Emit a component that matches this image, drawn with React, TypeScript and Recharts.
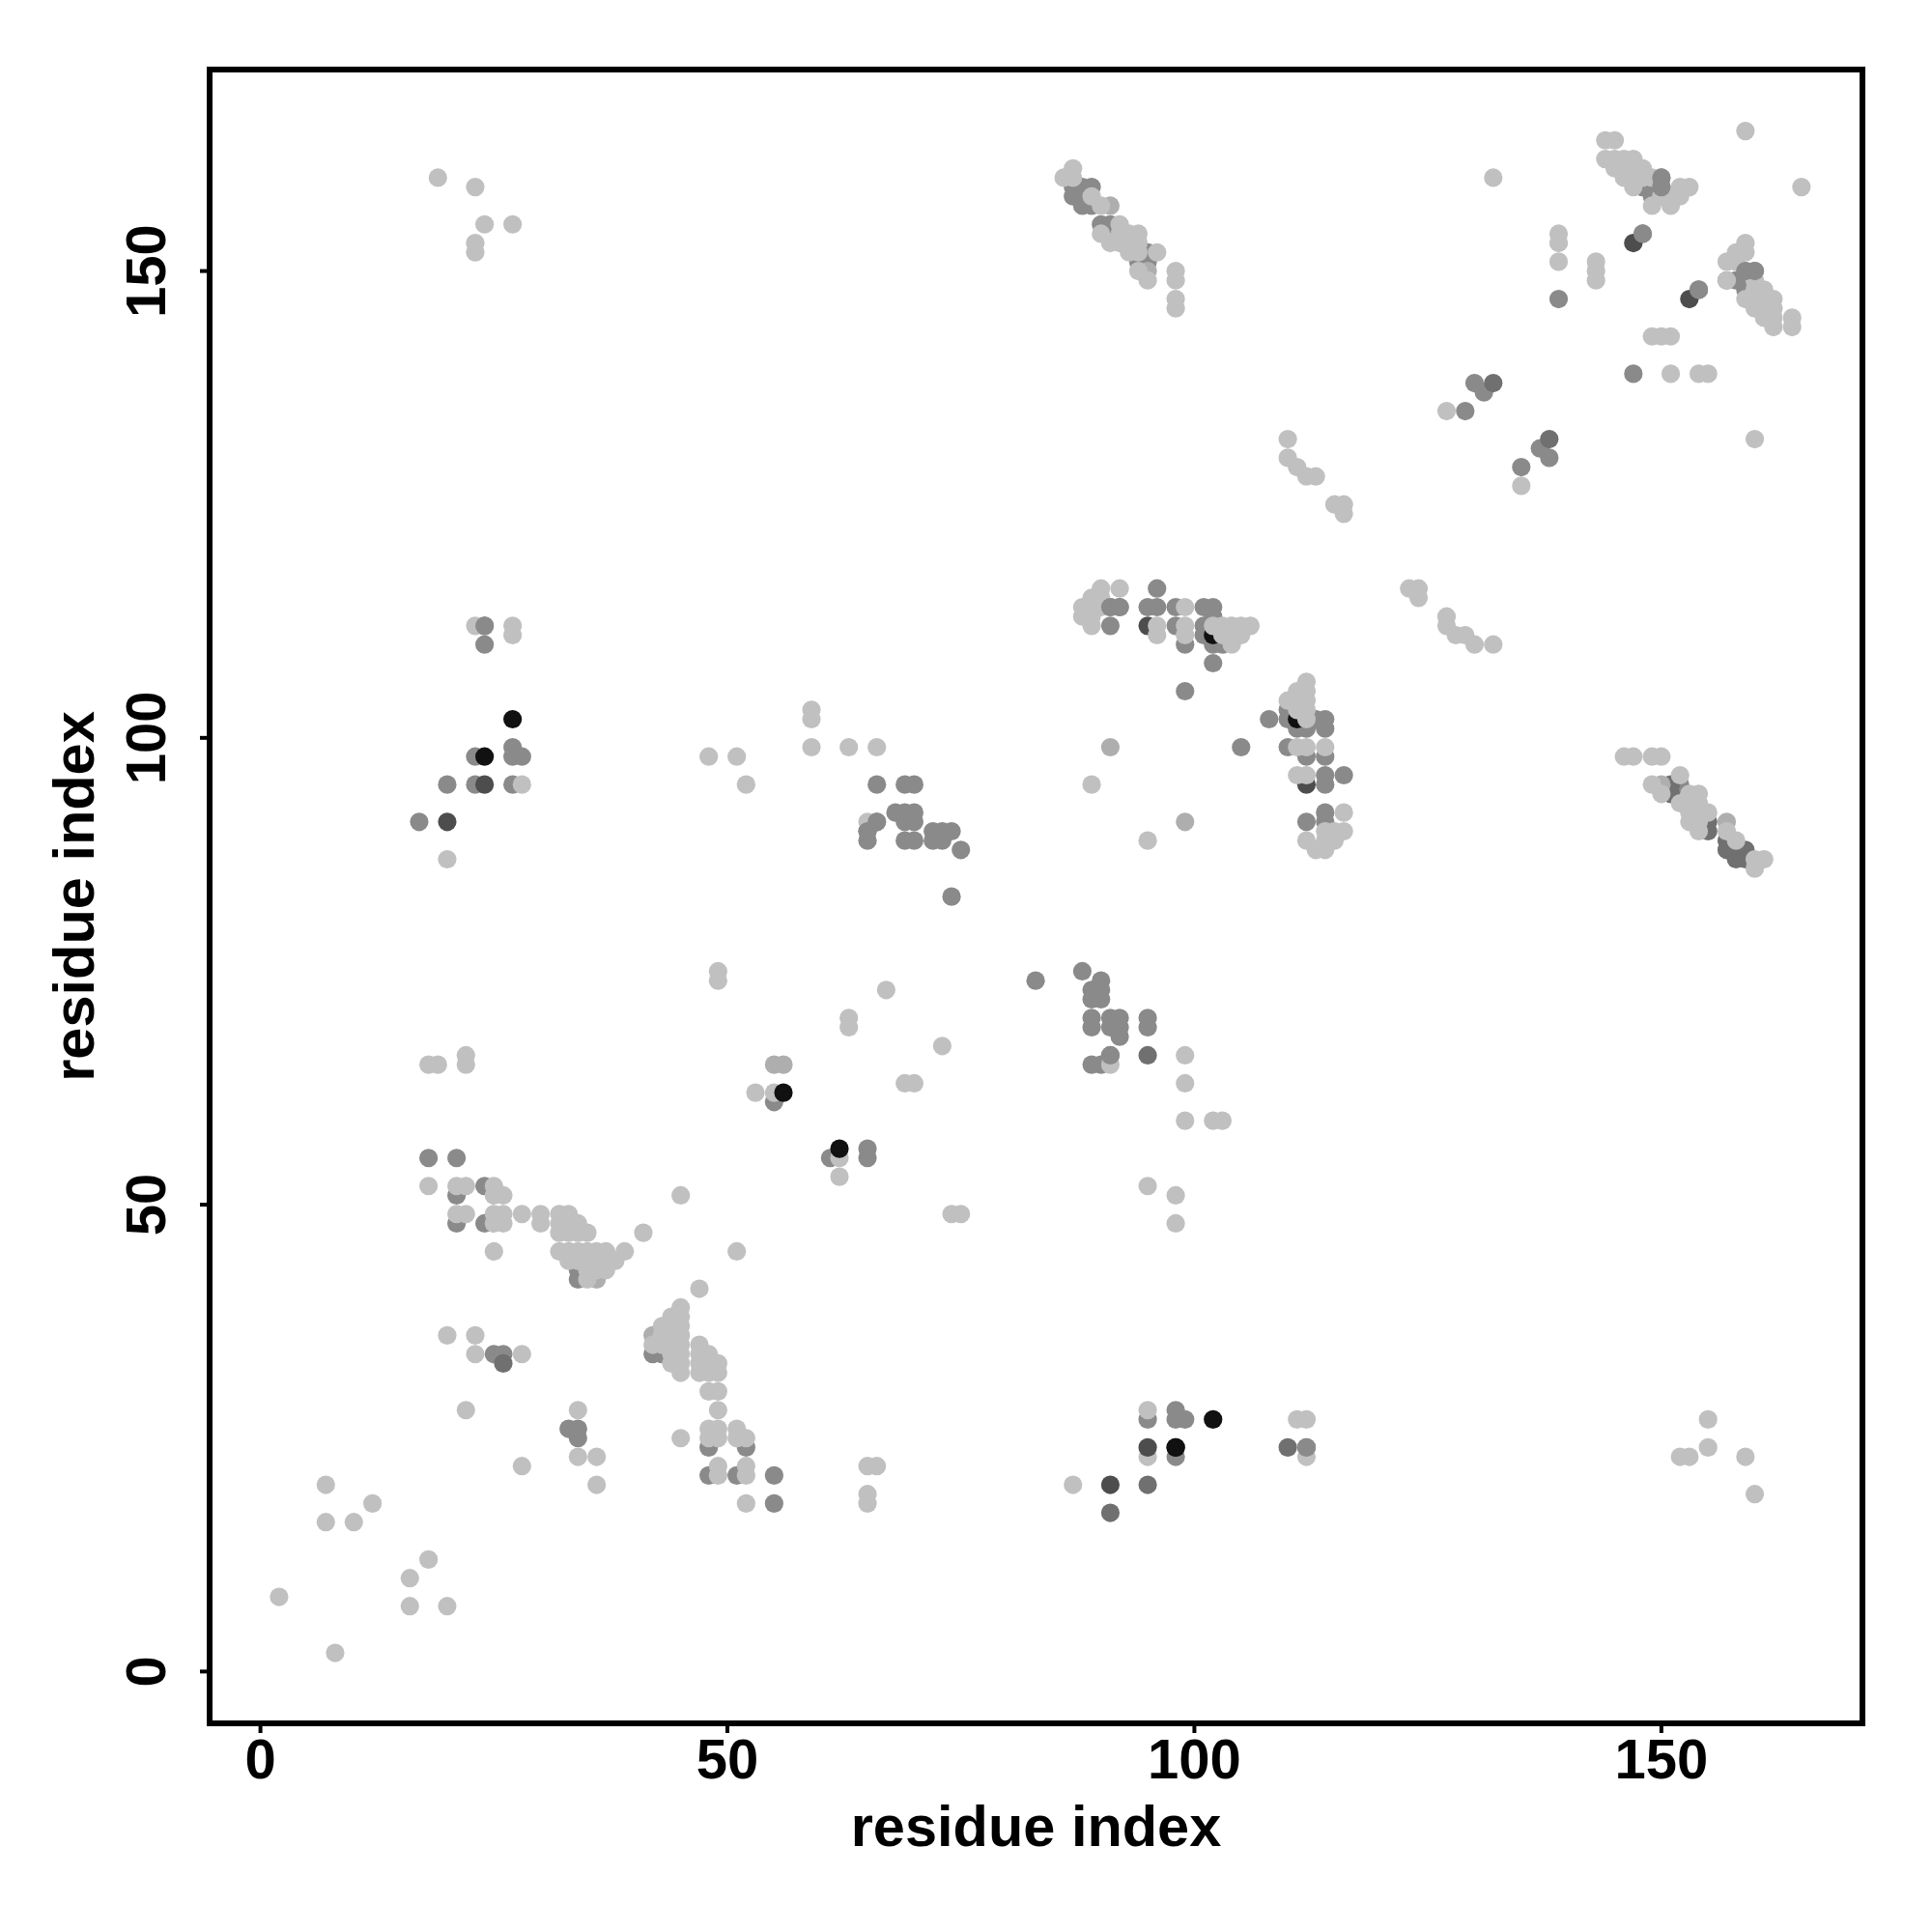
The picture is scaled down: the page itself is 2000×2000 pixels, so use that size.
import React from 'react';
import { ScatterChart, Scatter, XAxis, YAxis, ReferenceArea } from 'recharts';

type Pt = [number, number];

const X_TICKS = [0, 50, 100, 150];
const Y_TICKS = [0, 50, 100, 150];

const BLACK_PTS: Pt[] = [
  [27, 102], [24, 98], [102, 111], [111, 102], [98, 24], [102, 27],
];

const DARK_PTS: Pt[] = [
  [147, 153], [153, 147], [95, 112], [112, 95], [91, 20], [20, 91], [24, 95],
];

const MIDDARK_PTS: Pt[] = [
  [132, 138], [138, 132], [91, 17], [95, 66], [157, 89], [157, 88], [158, 88], [158, 87], [159, 88],
  [159, 87], [151, 95], [151, 94], [155, 90], [155, 91], [95, 20], [26, 33], [110, 24],
];

const MID_PTS: Pt[] = [
  [18, 55], [21, 55], [21, 51], [24, 52], [21, 48], [24, 48], [34, 43], [34, 42], [42, 34], [43, 34],
  [25, 34], [26, 34], [33, 26], [34, 26], [34, 25], [48, 24], [52, 24], [48, 21], [51, 21],
  [55, 21], [55, 18], [95, 27], [98, 28], [98, 27], [99, 27], [98, 23],
  [112, 24], [83, 74], [88, 75], [90, 74], [89, 73], [90, 73], [89, 72], [90, 72], [89, 70],
  [89, 69], [91, 70], [92, 70], [91, 69], [92, 69], [92, 68], [95, 70], [95, 69], [91, 66],
  [89, 65], [90, 65], [55, 61], [61, 55], [65, 56], [65, 55], [24, 112], [24, 110], [23, 98], [27, 99],
  [27, 98], [28, 98], [20, 95], [23, 95], [27, 95], [17, 91], [66, 95], [69, 95], [70, 95], [65, 90],
  [65, 89], [66, 91], [68, 92], [69, 92], [70, 92], [69, 91], [70, 91], [69, 89], [70, 89], [72, 90],
  [73, 90], [74, 90], [72, 89], [73, 89], [75, 88], [74, 83], [91, 114], [92, 114], [95, 114], [96, 114],
  [98, 114], [101, 114], [102, 114], [102, 113], [96, 116], [91, 112], [98, 112], [99, 110], [101, 112],
  [101, 111], [102, 110], [103, 110], [102, 108], [99, 105], [105, 99], [108, 102], [110, 103],
  [110, 102], [111, 101], [112, 101], [114, 101], [113, 102], [114, 102], [110, 99], [112, 98], [114, 98],
  [114, 96], [114, 95], [116, 96], [114, 92], [114, 91], [112, 91], [87, 159], [87, 158], [88, 159],
  [89, 159], [88, 158], [88, 157], [89, 157], [90, 155], [91, 155], [95, 152], [94, 151], [95, 151],
  [148, 159], [149, 159], [150, 160], [150, 159], [149, 158], [148, 154], [139, 147], [147, 139], [154, 148],
  [159, 150], [160, 150], [157, 149], [158, 149], [159, 148], [129, 135], [130, 138], [131, 137],
  [135, 129], [137, 131], [138, 130], [152, 95],
];

const PALE_PTS: Pt[] = [
  [91, 99], [99, 91], [55, 65], [56, 65], [91, 157], [150, 95], [157, 91], [95, 150], [93, 153],
  [36, 42], [42, 36], [153, 93],
];

const LIGHT_PTS: Pt[] = [
  [2, 8], [8, 2], [7, 20], [7, 16], [10, 16], [12, 18], [16, 10], [16, 7], [18, 12], [20, 7], [20, 36],
  [22, 28], [23, 36], [23, 34], [28, 34], [28, 22], [34, 28], [34, 23], [36, 23], [36, 20], [18, 52],
  [21, 52], [22, 52], [25, 52], [25, 51], [26, 51], [21, 49], [22, 49], [25, 49], [26, 49], [25, 48],
  [26, 48], [28, 49], [30, 49], [30, 48], [32, 49], [33, 49], [32, 48], [33, 48], [34, 48], [32, 47],
  [33, 47], [34, 47], [35, 47], [25, 45], [32, 45], [33, 45], [34, 45], [35, 45], [36, 45], [37, 45],
  [39, 45], [33, 44], [34, 44], [35, 44], [36, 44], [37, 44], [38, 44], [35, 43], [36, 43], [37, 43],
  [35, 42], [41, 47], [45, 51], [47, 41], [45, 39], [44, 38], [45, 38], [43, 37], [44, 37],
  [45, 37], [43, 36], [44, 36], [45, 36], [42, 35], [43, 35], [44, 35], [45, 35], [44, 34],
  [45, 34], [44, 33], [45, 33], [45, 32], [47, 35], [47, 34], [47, 33], [47, 32], [48, 34], [48, 33],
  [48, 32], [49, 33], [49, 32], [48, 30], [49, 30], [49, 28], [48, 26], [49, 26], [48, 25], [49, 25],
  [51, 26], [51, 25], [52, 25], [45, 25], [49, 22], [49, 21], [52, 22], [52, 21], [52, 18], [65, 22],
  [66, 22], [65, 19], [65, 18], [87, 20], [95, 28], [95, 23], [111, 27], [112, 27], [112, 23], [153, 23],
  [152, 23], [155, 27], [155, 24], [159, 23], [160, 19], [99, 66], [91, 65], [99, 63], [99, 59], [102, 59],
  [103, 59], [95, 52], [98, 51], [98, 48], [74, 49], [75, 49], [73, 67], [69, 63], [70, 63], [67, 73],
  [63, 70], [63, 69], [49, 75], [49, 74], [53, 62], [55, 62], [62, 55], [62, 53],
  [18, 65], [19, 65], [22, 66], [22, 65], [51, 45], [19, 160], [23, 159], [24, 155], [27, 155], [23, 153],
  [23, 152], [132, 160], [165, 159], [159, 165], [23, 112], [27, 112], [27, 111], [28, 95], [20, 87],
  [48, 98], [51, 98], [52, 95], [59, 103], [59, 102], [59, 99], [63, 99], [66, 99], [65, 91],
  [90, 116], [92, 116], [89, 115], [90, 115], [88, 114], [89, 114], [90, 114], [99, 114], [88, 113],
  [89, 113], [89, 112], [96, 112], [96, 111], [99, 112], [99, 111], [102, 112], [103, 112], [104, 112],
  [105, 112], [106, 112], [103, 111], [104, 111], [105, 111], [104, 110], [89, 95],
  [95, 89], [112, 106], [111, 105], [112, 105], [110, 104], [111, 104], [112, 104], [111, 103], [112, 103],
  [112, 102], [111, 99], [112, 99], [114, 99], [111, 96], [112, 96], [116, 92], [116, 90], [115, 90],
  [114, 90], [112, 89], [114, 89], [115, 89], [113, 88], [114, 88], [87, 161], [86, 160], [87, 160],
  [89, 158], [90, 157], [90, 154], [91, 153], [92, 155], [92, 154], [92, 153], [93, 154],
  [94, 154], [94, 153], [93, 152], [94, 152], [96, 152], [94, 150], [95, 149],
  [98, 150], [98, 149], [98, 147], [98, 146], [144, 164], [145, 164], [144, 162], [145, 162], [146, 162],
  [147, 162], [145, 161], [146, 161], [147, 161], [148, 161], [146, 160], [147, 160], [148, 160],
  [149, 160], [147, 159], [149, 157], [150, 158], [151, 158], [152, 159], [153, 159],
  [152, 158], [151, 157], [139, 154], [139, 153], [139, 151], [143, 151], [143, 150], [143, 149],
  [159, 153], [158, 152], [159, 152], [157, 151], [158, 151], [157, 149], [160, 149], [161, 148],
  [160, 148], [162, 147], [161, 147], [160, 147], [159, 147], [160, 146], [161, 146], [162, 146],
  [162, 145], [161, 145], [162, 144], [164, 145], [164, 144], [149, 143], [150, 143], [151, 143],
  [151, 139], [154, 139], [155, 139], [160, 132], [127, 135], [135, 127], [110, 132], [110, 130],
  [111, 129], [112, 128], [113, 128], [115, 125], [116, 125], [116, 124], [123, 116], [124, 116],
  [124, 115], [127, 113], [127, 112], [128, 111], [129, 111], [130, 110], [132, 110], [146, 98], [147, 98],
  [149, 98], [150, 98], [149, 95], [150, 94], [152, 96], [152, 93], [153, 94], [154, 94],
  [154, 93], [153, 92], [153, 91], [154, 92], [154, 91], [154, 90], [155, 92],
  [157, 90], [158, 89], [160, 87], [161, 87], [160, 86],
];

// these overlap light neighbours but are on top in the picture
const TOP_MID_PTS: Pt[] = [
  [24, 112], [91, 114], [92, 114], [150, 160], [150, 159], [66, 91], [65, 90], [91, 66], [112, 24],
  [148, 154], [154, 148], [159, 150], [160, 150],
];
const TOP_DARK_PTS: Pt[] = [[95, 24]];
const TOP_BLACK_PTS: Pt[] = [[56, 62], [62, 56], [98, 24]];

const toRows = (pts: Pt[]) => pts.map(([x, y]) => ({ x, y }));

const dot = (fill: string) => (props: any) => (
  <circle cx={props.cx} cy={props.cy} r={9.6} fill={fill} />
);

const XTick = ({ x, y, payload }: any) => (
  <text x={x} y={y + 45} textAnchor="middle" fontSize={58} fontWeight="bold" fill="#000">
    {payload.value}
  </text>
);

const YTick = ({ x, y, payload }: any) => (
  <text x={x - 34} y={y} textAnchor="middle" fontSize={58} fontWeight="bold" fill="#000" transform={`rotate(-90 ${x - 34} ${y})`}>
    {payload.value}
  </text>
);

export default function App() {
  return (
    <div style={{ position: 'absolute', left: 0, top: 0, fontFamily: '"Liberation Sans", Arial, sans-serif' }}>
      <ScatterChart width={2000} height={2000} margin={{ top: 72, right: 72, bottom: 0, left: 0 }}>
        <XAxis
          type="number"
          dataKey="x"
          domain={[-5.44, 171.53]}
          ticks={X_TICKS}
          height={216}
          axisLine={false}
          tickLine={{ stroke: '#000', strokeWidth: 4 }}
          tickSize={10}
          tick={<XTick />}
          interval={0}
          allowDataOverflow
          label={{ value: 'residue index', position: 'insideBottom', offset: 89, fontSize: 59.5, fontWeight: 'bold', fill: '#000' }}
        />
        <YAxis
          type="number"
          dataKey="y"
          domain={[-5.55, 171.58]}
          ticks={Y_TICKS}
          width={217}
          axisLine={false}
          tickLine={{ stroke: '#000', strokeWidth: 4 }}
          tickSize={10}
          tick={<YTick />}
          interval={0}
          allowDataOverflow
          label={{ value: 'residue index', angle: -90, position: 'insideLeft', offset: 76, fontSize: 59.5, fontWeight: 'bold', fill: '#000', style: { textAnchor: 'middle' } }}
        />
        <Scatter data={toRows(MID_PTS)} shape={dot('#8a8a8a')} isAnimationActive={false} />
        <Scatter data={toRows(MIDDARK_PTS)} shape={dot('#707070')} isAnimationActive={false} />
        <Scatter data={toRows(DARK_PTS)} shape={dot('#4d4d4d')} isAnimationActive={false} />
        <Scatter data={toRows(BLACK_PTS)} shape={dot('#111111')} isAnimationActive={false} />
        <Scatter data={toRows(PALE_PTS)} shape={dot('#aeaeae')} isAnimationActive={false} />
        <Scatter data={toRows(LIGHT_PTS)} shape={dot('#c0c0c0')} isAnimationActive={false} />
        <Scatter data={toRows(TOP_MID_PTS)} shape={dot('#8a8a8a')} isAnimationActive={false} />
        <Scatter data={toRows(TOP_DARK_PTS)} shape={dot('#4d4d4d')} isAnimationActive={false} />
        <Scatter data={toRows(TOP_BLACK_PTS)} shape={dot('#111111')} isAnimationActive={false} />
        <ReferenceArea x1={-5.44} x2={171.53} y1={-5.55} y2={171.58} fill="none" stroke="#000" strokeWidth={6} ifOverflow="visible" />
      </ScatterChart>
    </div>
  );
}
